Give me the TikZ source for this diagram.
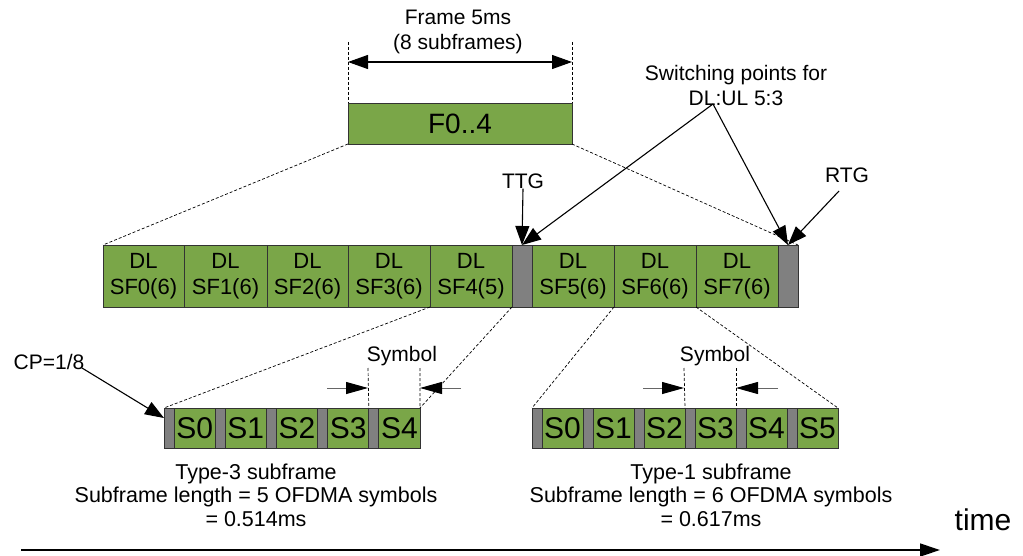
\documentclass[tikz,border=0pt]{standalone}
\usepackage{fontspec}
\setmainfont{Liberation Sans}
\usetikzlibrary{arrows.meta,calc}
\definecolor{sfgreen}{RGB}{122,166,72}
\definecolor{cpgray}{RGB}{128,128,128}
\begin{document}
\begin{tikzpicture}[x=1pt,y=-1pt,
  txt/.style={font=\fontsize{21}{25}\selectfont, inner sep=0, align=center},
  cell/.style={draw=black!80, line width=0.8pt, fill=sfgreen, anchor=north west,
    inner sep=0, outer sep=0, minimum height=62pt, align=center,
    font=\fontsize{22}{26}\selectfont},
  gapcell/.style={cell, fill=cpgray, minimum width=20pt},
  symcell/.style={draw=black!80, line width=0.8pt, fill=sfgreen, anchor=north west,
    inner sep=0, outer sep=0, minimum height=40pt, font=\fontsize{30}{32}\selectfont},
  cpcell/.style={symcell, fill=cpgray, minimum width=10pt},
  zoomline/.style={line width=0.7pt, dash pattern=on 3pt off 2pt},
  dimline/.style={line width=0.7pt, dash pattern=on 3pt off 2pt},
  arr/.style={line width=1.1pt, -{Triangle[length=19pt,width=14pt]}},
  dbl/.style={line width=1.1pt, {Triangle[length=20pt,width=14pt]}-{Triangle[length=20pt,width=14pt]}},
  symarr/.style={line width=1pt, draw=black!60, -{Triangle[length=22pt,width=12pt,color=black]}}
]
\useasboundingbox (0,0) rectangle (1023,556);

% top frame
\node[cell, minimum width=224pt, minimum height=41pt, font=\fontsize{28}{30}\selectfont] (f04) at (348,103) {F0..4};
\node[txt] (frm) at (458,32) {Frame 5ms\\(8 subframes)};
\coordinate (fl) at (348,42);
\coordinate (fr) at (572,42);
\coordinate (fa) at (348,62);
\coordinate (fb) at (572,62);
\draw[dimline] (fl) -- (f04.north west);
\draw[dimline] (fr) -- (f04.north east);
\draw[dbl] (fa) -- (fb);

% frame row
\node[cell, minimum width=81pt] (dl0) at (103,245) {DL\\SF0(6)};
\node[cell, minimum width=83pt] (dl1) at (184,245) {DL\\SF1(6)};
\node[cell, minimum width=81pt] (dl2) at (267,245) {DL\\SF2(6)};
\node[cell, minimum width=82pt] (dl3) at (348,245) {DL\\SF3(6)};
\node[cell, minimum width=82pt] (dl4) at (430,245) {DL\\SF4(5)};
\node[gapcell] (ttg) at (512,245) {};
\node[cell, minimum width=82pt] (dl5) at (532,245) {DL\\SF5(6)};
\node[cell, minimum width=82pt] (dl6) at (614,245) {DL\\SF6(6)};
\node[cell, minimum width=82pt] (dl7) at (696,245) {DL\\SF7(6)};
\node[gapcell] (rtg) at (778,245) {};

% type-3 subframe
\foreach \i in {0,...,4} {
  \pgfmathsetmacro{\xx}{164+51.2*\i}
  \node[cpcell] (cpL\i) at (\xx,408) {};
  \node[symcell, minimum width=41.2pt] (sL\i) at (\xx+10,408) {S\i};
}
% type-1 subframe
\foreach \i in {0,...,5} {
  \pgfmathsetmacro{\xx}{532+51*\i}
  \node[cpcell] (cpR\i) at (\xx,408) {};
  \node[symcell, minimum width=41pt] (sR\i) at (\xx+10,408) {S\i};
}

% zoom lines
\draw[zoomline] (f04.south west) -- (dl0.north west);
\draw[zoomline] (f04.south east) -- (rtg.north east);
\draw[zoomline] (dl4.south west) -- (cpL0.north west);
\draw[zoomline] (dl4.south east) -- (sL4.north east);
\draw[zoomline] (dl6.south west) -- (cpR0.north west);
\draw[zoomline] (dl6.south east) -- (sR5.north east);

% TTG / RTG / switching points
\node[txt] (ttgl) at (523,181) {TTG};
\draw[arr] (ttgl.south) -- (ttg.north);
\node[txt] (rtgl) at (847,175) {RTG};
\coordinate (rtgs) at (839,191);
\draw[arr] (rtgs) -- (rtg.north);
\node[txt] (swl) at (736,85) {Switching points for\\DL:UL 5:3};
\coordinate (sw) at (713,104);
\draw[arr] (sw) -- (ttg.north);
\draw[arr] (sw) -- (rtg.north);

% CP
\node[txt] (cpl) at (49,362) {CP=1/8};
\coordinate (cps) at (82,368);
\draw[arr] (cps) -- ($(cpL0.north west)!0.25!(cpL0.south west)$);

% symbol markers left
\node[txt] (syml) at (402,356) {Symbol};
\coordinate (sla) at (368,368);
\coordinate (slb) at (420,368);
\draw[dimline] (sla) -- (cpL4.north west);
\draw[dimline] (slb) -- (sL4.north east);
\coordinate (sl1) at (327,388);
\coordinate (sl1t) at (368,388);
\coordinate (sl2) at (461,388);
\coordinate (sl2t) at (420,388);
\draw[symarr] (sl1) -- (sl1t);
\draw[symarr] (sl2) -- (sl2t);

% symbol markers right
\node[txt] (symr) at (715,356) {Symbol};
\coordinate (sra) at (684,368);
\coordinate (srb) at (736,368);
\draw[dimline] (sra) -- (cpR3.north west);
\draw[dimline] (srb) -- (sR3.north east);
\coordinate (sr1) at (643,388);
\coordinate (sr1t) at (684,388);
\coordinate (sr2) at (778,388);
\coordinate (sr2t) at (736,388);
\draw[symarr] (sr1) -- (sr1t);
\draw[symarr] (sr2) -- (sr2t);

% captions
\node[txt, font=\fontsize{21.5}{23.5}\selectfont] (capL) at (256,495) {Type-3 subframe\\Subframe length = 5 OFDMA symbols\\= 0.514ms};
\node[txt, font=\fontsize{21.5}{23.5}\selectfont] (capR) at (711,495) {Type-1 subframe\\Subframe length = 6 OFDMA symbols\\= 0.617ms};

% time axis
\node[txt, font=\fontsize{30}{32}\selectfont] (timel) at (983,520) {time};
\coordinate (t0) at (21,550);
\coordinate (t1) at (940,550);
\draw[line width=1.3pt, -{Triangle[length=20pt,width=13pt]}] (t0) -- (t1);
\end{tikzpicture}
\end{document}
